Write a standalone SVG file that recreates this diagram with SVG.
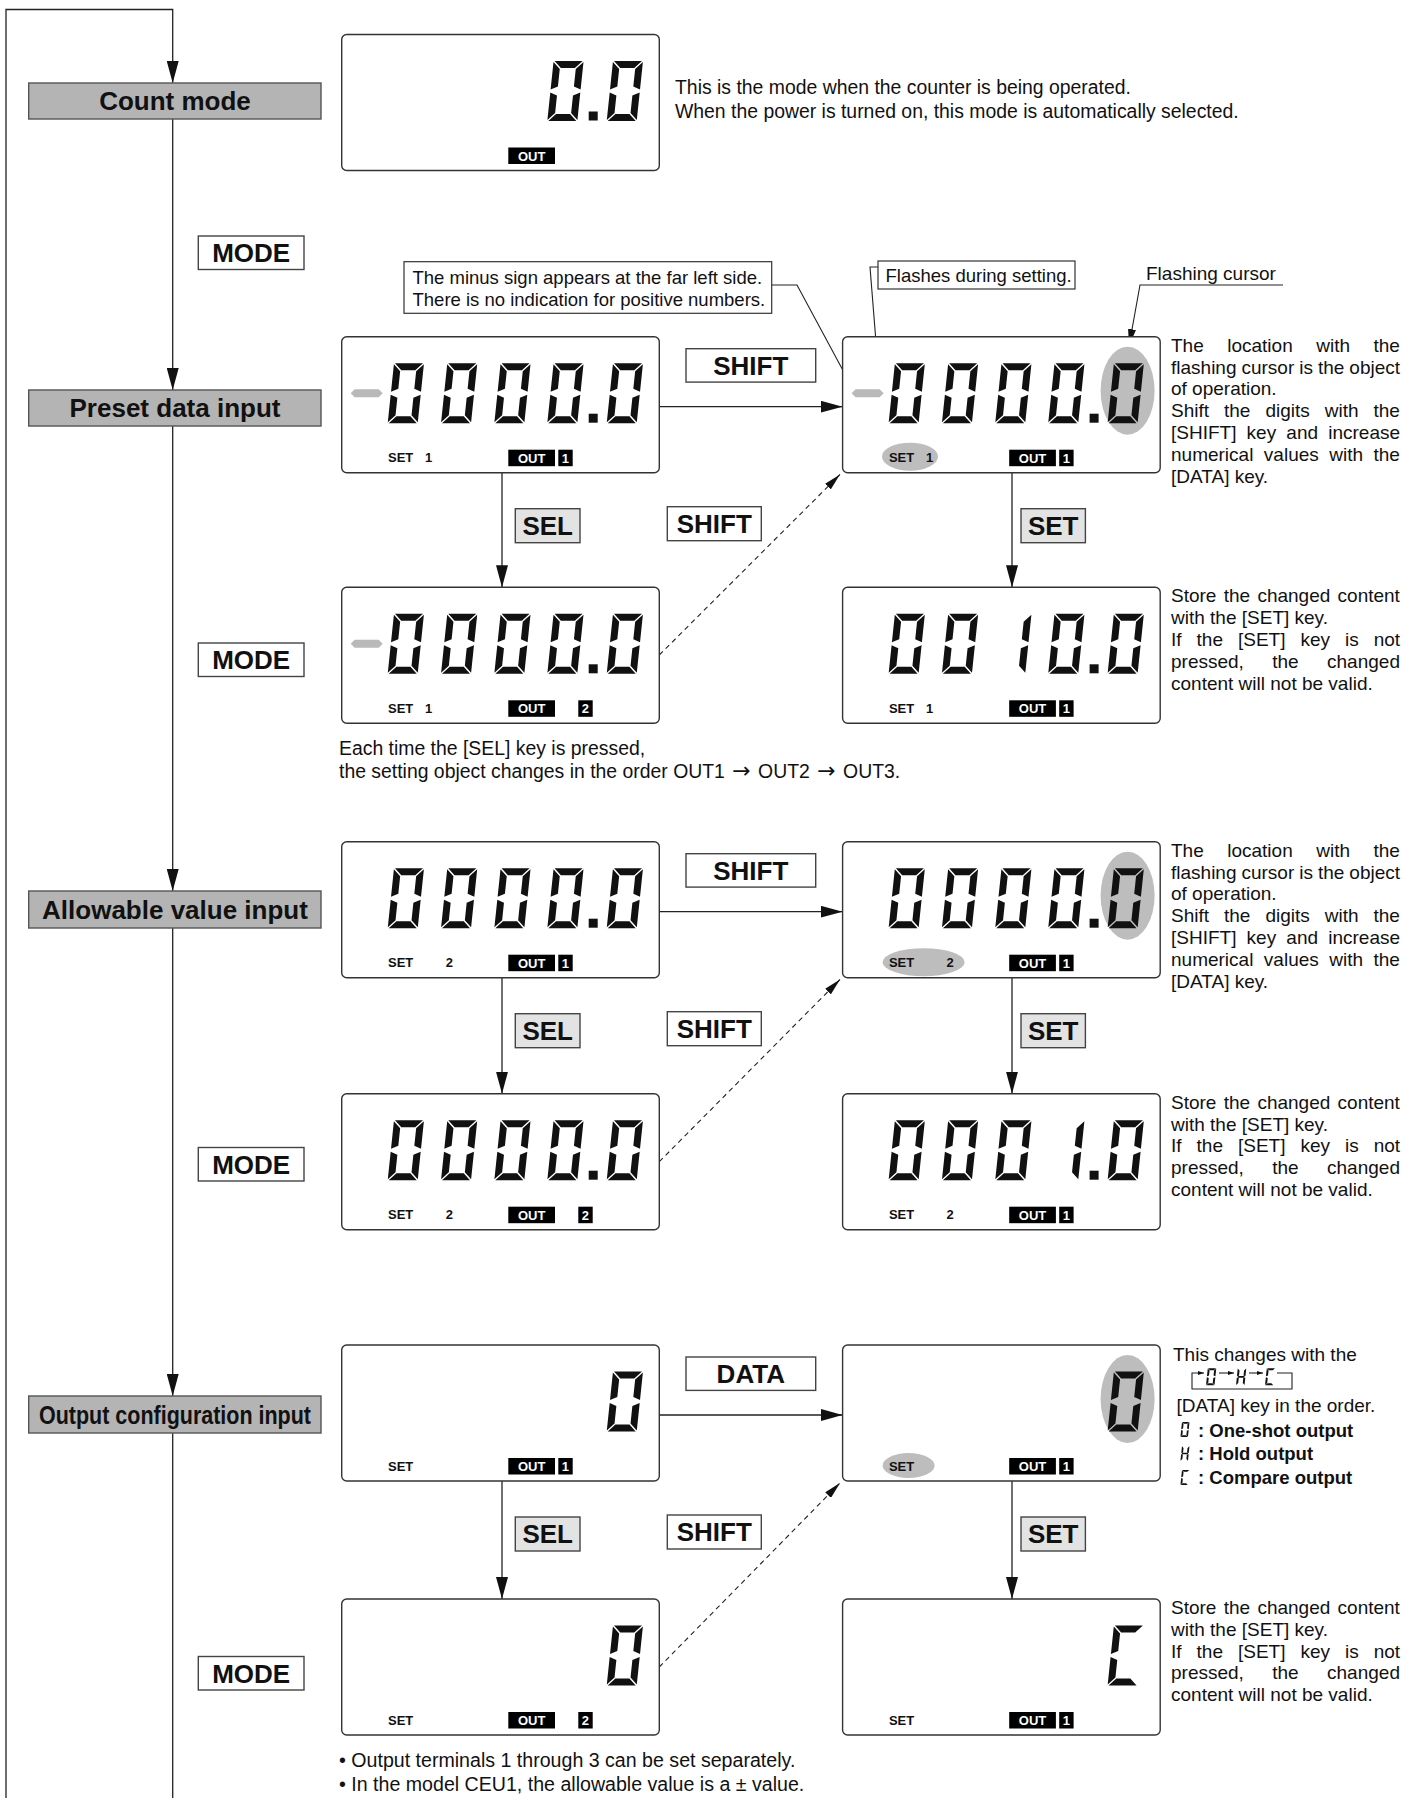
<svg xmlns="http://www.w3.org/2000/svg" width="1417" height="1798" viewBox="0 0 1417 1798">
<style>
.bg{fill:#fff}
.lcd{fill:#fff;stroke:#333;stroke-width:1.4}
.seg{fill:#111}
.minus{fill:#b9b9b9}
.oval{fill:#bdbdbd}
.mode{fill:#b4b4b4;stroke:#555;stroke-width:1.4}
.key{fill:#fff;stroke:#444;stroke-width:1.4}
.keyg{fill:#e3e3e3;stroke:#444;stroke-width:1.4}
.kt{font-family:"Liberation Sans",Arial,sans-serif;font-weight:bold;font-size:26px;text-anchor:middle;fill:#111}
.t{font-family:"Liberation Sans",Arial,sans-serif;font-size:19px;fill:#111}
.tw{font-family:"Liberation Sans",Arial,sans-serif;font-size:19.4px;fill:#111}
.tbul{font-family:"Liberation Sans",Arial,sans-serif;font-size:19.6px;fill:#111}
.arr{font-family:"DejaVu Sans",sans-serif;font-size:22px}
.tc{font-family:"Liberation Sans",Arial,sans-serif;font-size:18.5px;fill:#111}
.tb{font-family:"Liberation Sans",Arial,sans-serif;font-size:18.5px;font-weight:bold;fill:#111}
.lbl{font-family:"Liberation Sans",Arial,sans-serif;font-size:13px;font-weight:bold;fill:#111}
.outt{font-family:"Liberation Sans",Arial,sans-serif;font-size:13px;font-weight:bold;fill:#fff;text-anchor:middle}
.blk{fill:#000}
.ln{fill:none;stroke:#222;stroke-width:1.3}
.thin{fill:none;stroke:#222;stroke-width:1.1}
.dash{stroke-dasharray:5 4}
.cb{fill:#fff;stroke:#333;stroke-width:1.2}
</style>
<defs>
<marker id="ah" viewBox="0 0 22 12" refX="22" refY="6" markerWidth="22" markerHeight="12" markerUnits="userSpaceOnUse" orient="auto"><path d="M0,0L22,6L0,12Z" fill="#111"/></marker>
<marker id="as" viewBox="0 0 17 8" refX="17" refY="4" markerWidth="17" markerHeight="8" markerUnits="userSpaceOnUse" orient="auto"><path d="M0,0L17,4L0,8Z" fill="#111"/></marker>
<marker id="at" viewBox="0 0 6 4" refX="6" refY="2" markerWidth="6" markerHeight="4" markerUnits="userSpaceOnUse" orient="auto"><path d="M0,0L6,2L0,4Z" fill="#111"/></marker>
<path id="d0" class="seg" d="M1,0H29L22,7H8Z M30,1V28.5L23,25.5V8Z M30,31.5V59L23,52V34.5Z M8,53H22L29,60H1Z M0,31.5L7,34.5V52L0,59Z M0,1L7,8V25.5L0,28.5Z"/>
<path id="d1" class="seg" d="M30,1V28.5L23,25.5V8Z M30,31.5V59L23,52V34.5Z"/>
<path id="dH" class="seg" d="M30,1V27.5L23,26V8Z M30,32.5V59L23,52V34Z M0,32.5L7,34V52L0,59Z M0,1L7,8V26L0,27.5Z M1.5,30L5.5,27H24.5L28.5,30L24.5,33H5.5Z"/>
<path id="dC" class="seg" d="M1,0H29L22,7H8Z M8,53H22L29,60H1Z M0,31.5L7,34.5V52L0,59Z M0,1L7,8V25.5L0,28.5Z"/>
<polygon id="mn" class="minus" points="9,56.5 13,52.5 37,52.5 41,56.5 37,60.5 13,60.5"/>
<rect id="frame" class="lcd" width="317.6" height="136" rx="5"/>
<rect id="dp" class="seg" x="247" y="77" width="9" height="9"/>
<g id="out1"><rect class="blk" x="166.6" y="113" width="46.7" height="16.5"/><text class="outt" x="190" y="126">OUT</text><rect class="blk" x="216.6" y="113" width="14.4" height="16.5"/><text class="outt" x="223.8" y="126">1</text></g>
<g id="out2"><rect class="blk" x="166.6" y="113" width="46.7" height="16.5"/><text class="outt" x="190" y="126">OUT</text><rect class="blk" x="236.6" y="113" width="14.4" height="16.5"/><text class="outt" x="243.8" y="126">2</text></g>
</defs>
<rect class="bg" width="1417" height="1798"/>

<g id="connectors">
<path class="ln" d="M6,1798V9.5H172.7V83" marker-end="url(#ah)"/>
<path class="ln" d="M172.7,119V390" marker-end="url(#ah)"/>
<path class="ln" d="M172.7,426V891" marker-end="url(#ah)"/>
<path class="ln" d="M172.7,928V1396" marker-end="url(#ah)"/>
<path class="ln" d="M172.7,1433V1798"/>
<path class="ln" d="M659.3,406.7H842.6" marker-end="url(#ah)"/>
<path class="ln" d="M502,472.7V587.3" marker-end="url(#ah)"/>
<path class="ln" d="M1012,472.7V587.3" marker-end="url(#ah)"/>
<path class="thin dash" d="M659.3,655L840,474.5" marker-end="url(#as)"/>
<path class="ln" d="M659.3,911.7H842.6" marker-end="url(#ah)"/>
<path class="ln" d="M502,977.7V1093.7" marker-end="url(#ah)"/>
<path class="ln" d="M1012,977.7V1093.7" marker-end="url(#ah)"/>
<path class="thin dash" d="M659.3,1161.7L840,979.5" marker-end="url(#as)"/>
<path class="ln" d="M659.3,1415H842.6" marker-end="url(#ah)"/>
<path class="ln" d="M502,1481V1599" marker-end="url(#ah)"/>
<path class="ln" d="M1012,1481V1599" marker-end="url(#ah)"/>
<path class="thin dash" d="M659.3,1667L840,1483" marker-end="url(#as)"/>
<path class="thin" d="M771.7,285H797L853,389" marker-end="url(#as)"/>
<path class="thin" d="M878,267H870L884,442" marker-end="url(#as)"/>
<path class="thin" d="M1283,285H1140L1129,346" marker-end="url(#as)"/>
</g>

<g id="mode-boxes">
<g id="count-mode"><rect class="mode" x="28.7" y="83" width="292.3" height="36"/><text class="kt" x="175" y="110.3">Count mode</text></g>
<g id="preset-mode"><rect class="mode" x="28.7" y="390" width="292.3" height="36"/><text class="kt" x="175" y="417.3">Preset data input</text></g>
<g id="allow-mode"><rect class="mode" x="28.7" y="891" width="292.3" height="37"/><text class="kt" x="175" y="918.8">Allowable value input</text></g>
<g id="output-mode"><rect class="mode" x="28.7" y="1396" width="292.3" height="37"/><text class="kt" x="175" y="1423.8" textLength="272" lengthAdjust="spacingAndGlyphs">Output configuration input</text></g>
</g>

<g id="keys">
<g id="mode1"><rect class="key" x="198.3" y="236" width="105.7" height="33.5"/><text class="kt" x="251.2" y="262">MODE</text></g>
<g id="mode2"><rect class="key" x="198.3" y="643" width="105.7" height="33.5"/><text class="kt" x="251.2" y="669">MODE</text></g>
<g id="mode3"><rect class="key" x="198.3" y="1147.5" width="105.7" height="33.5"/><text class="kt" x="251.2" y="1173.5">MODE</text></g>
<g id="mode4"><rect class="key" x="198.3" y="1656.5" width="105.7" height="33.5"/><text class="kt" x="251.2" y="1682.5">MODE</text></g>

<g id="p-shift"><rect class="key" x="686" y="348.7" width="129.7" height="33.4"/><text class="kt" x="750.8" y="375">SHIFT</text></g>
<g id="p-sel"><rect class="keyg" x="515.3" y="508.7" width="64.7" height="34"/><text class="kt" x="547.7" y="535">SEL</text></g>
<g id="p-shift2"><rect class="key" x="667.3" y="506.7" width="94" height="34"/><text class="kt" x="714.3" y="533">SHIFT</text></g>
<g id="p-set"><rect class="keyg" x="1021" y="508.7" width="64.4" height="34"/><text class="kt" x="1053.2" y="535">SET</text></g>

<g id="a-shift"><rect class="key" x="686" y="853.7" width="129.7" height="33.4"/><text class="kt" x="750.8" y="880">SHIFT</text></g>
<g id="a-sel"><rect class="keyg" x="515.3" y="1013.7" width="64.7" height="34"/><text class="kt" x="547.7" y="1040">SEL</text></g>
<g id="a-shift2"><rect class="key" x="667.3" y="1011.7" width="94" height="34"/><text class="kt" x="714.3" y="1038">SHIFT</text></g>
<g id="a-set"><rect class="keyg" x="1021" y="1013.7" width="64.4" height="34"/><text class="kt" x="1053.2" y="1040">SET</text></g>

<g id="o-data"><rect class="key" x="686" y="1357" width="129.7" height="33.4"/><text class="kt" x="750.8" y="1383.3">DATA</text></g>
<g id="o-sel"><rect class="keyg" x="515.3" y="1517" width="64.7" height="34"/><text class="kt" x="547.7" y="1543.3">SEL</text></g>
<g id="o-shift2"><rect class="key" x="667.3" y="1515" width="94" height="34"/><text class="kt" x="714.3" y="1541.3">SHIFT</text></g>
<g id="o-set"><rect class="keyg" x="1021" y="1517" width="64.4" height="34"/><text class="kt" x="1053.2" y="1543.3">SET</text></g>
</g>

<g id="lcd-count" transform="translate(341.7,34.5)">
<use href="#frame"/>
<use href="#d0" transform="translate(211.9,26.5) skewX(-6)"/><use href="#dp"/><use href="#d0" transform="translate(271.3,26.5) skewX(-6)"/>
<rect class="blk" x="166.6" y="113" width="46.7" height="16.5"/><text class="outt" x="190" y="126">OUT</text>
</g>

<g id="lcd-p1" transform="translate(341.7,336.7)">
<use href="#frame"/><use href="#mn"/>
<use href="#d0" transform="translate(52.3,26.5) skewX(-6)"/><use href="#d0" transform="translate(105.6,26.5) skewX(-6)"/><use href="#d0" transform="translate(158.9,26.5) skewX(-6)"/><use href="#d0" transform="translate(211.9,26.5) skewX(-6)"/><use href="#dp"/><use href="#d0" transform="translate(271.3,26.5) skewX(-6)"/>
<text class="lbl" x="46.3" y="125.5">SET</text><text class="lbl" x="83.3" y="125.5">1</text>
<use href="#out1"/>
</g>
<g id="lcd-p2" transform="translate(842.6,336.7)">
<use href="#frame"/><use href="#mn"/>
<ellipse class="oval" cx="285" cy="54" rx="27" ry="44"/>
<ellipse class="oval" cx="67.4" cy="120" rx="28" ry="14"/>
<use href="#d0" transform="translate(52.3,26.5) skewX(-6)"/><use href="#d0" transform="translate(105.6,26.5) skewX(-6)"/><use href="#d0" transform="translate(158.9,26.5) skewX(-6)"/><use href="#d0" transform="translate(211.9,26.5) skewX(-6)"/><use href="#dp"/><use href="#d0" transform="translate(271.3,26.5) skewX(-6)"/>
<text class="lbl" x="46.3" y="125.5">SET</text><text class="lbl" x="83.3" y="125.5">1</text>
<use href="#out1"/>
</g>
<g id="lcd-p3" transform="translate(341.7,587.3)">
<use href="#frame"/><use href="#mn"/>
<use href="#d0" transform="translate(52.3,26.5) skewX(-6)"/><use href="#d0" transform="translate(105.6,26.5) skewX(-6)"/><use href="#d0" transform="translate(158.9,26.5) skewX(-6)"/><use href="#d0" transform="translate(211.9,26.5) skewX(-6)"/><use href="#dp"/><use href="#d0" transform="translate(271.3,26.5) skewX(-6)"/>
<text class="lbl" x="46.3" y="125.5">SET</text><text class="lbl" x="83.3" y="125.5">1</text>
<use href="#out2"/>
</g>
<g id="lcd-p4" transform="translate(842.6,587.3)">
<use href="#frame"/>
<use href="#d0" transform="translate(52.3,26.5) skewX(-6)"/><use href="#d0" transform="translate(105.6,26.5) skewX(-6)"/><use href="#d1" transform="translate(158.9,26.5) skewX(-6)"/><use href="#d0" transform="translate(211.9,26.5) skewX(-6)"/><use href="#dp"/><use href="#d0" transform="translate(271.3,26.5) skewX(-6)"/>
<text class="lbl" x="46.3" y="125.5">SET</text><text class="lbl" x="83.3" y="125.5">1</text>
<use href="#out1"/>
</g>

<g id="lcd-a1" transform="translate(341.7,841.7)">
<use href="#frame"/>
<use href="#d0" transform="translate(52.3,26.5) skewX(-6)"/><use href="#d0" transform="translate(105.6,26.5) skewX(-6)"/><use href="#d0" transform="translate(158.9,26.5) skewX(-6)"/><use href="#d0" transform="translate(211.9,26.5) skewX(-6)"/><use href="#dp"/><use href="#d0" transform="translate(271.3,26.5) skewX(-6)"/>
<text class="lbl" x="46.3" y="125.5">SET</text><text class="lbl" x="104" y="125.5">2</text>
<use href="#out1"/>
</g>
<g id="lcd-a2" transform="translate(842.6,841.7)">
<use href="#frame"/>
<ellipse class="oval" cx="285" cy="54" rx="27" ry="44"/>
<ellipse class="oval" cx="81" cy="120.5" rx="41" ry="14"/>
<use href="#d0" transform="translate(52.3,26.5) skewX(-6)"/><use href="#d0" transform="translate(105.6,26.5) skewX(-6)"/><use href="#d0" transform="translate(158.9,26.5) skewX(-6)"/><use href="#d0" transform="translate(211.9,26.5) skewX(-6)"/><use href="#dp"/><use href="#d0" transform="translate(271.3,26.5) skewX(-6)"/>
<text class="lbl" x="46.3" y="125.5">SET</text><text class="lbl" x="104" y="125.5">2</text>
<use href="#out1"/>
</g>
<g id="lcd-a3" transform="translate(341.7,1093.7)">
<use href="#frame"/>
<use href="#d0" transform="translate(52.3,26.5) skewX(-6)"/><use href="#d0" transform="translate(105.6,26.5) skewX(-6)"/><use href="#d0" transform="translate(158.9,26.5) skewX(-6)"/><use href="#d0" transform="translate(211.9,26.5) skewX(-6)"/><use href="#dp"/><use href="#d0" transform="translate(271.3,26.5) skewX(-6)"/>
<text class="lbl" x="46.3" y="125.5">SET</text><text class="lbl" x="104" y="125.5">2</text>
<use href="#out2"/>
</g>
<g id="lcd-a4" transform="translate(842.6,1093.7)">
<use href="#frame"/>
<use href="#d0" transform="translate(52.3,26.5) skewX(-6)"/><use href="#d0" transform="translate(105.6,26.5) skewX(-6)"/><use href="#d0" transform="translate(158.9,26.5) skewX(-6)"/><use href="#d1" transform="translate(211.9,26.5) skewX(-6)"/><use href="#dp"/><use href="#d0" transform="translate(271.3,26.5) skewX(-6)"/>
<text class="lbl" x="46.3" y="125.5">SET</text><text class="lbl" x="104" y="125.5">2</text>
<use href="#out1"/>
</g>

<g id="lcd-o1" transform="translate(341.7,1345)">
<use href="#frame"/>
<use href="#d0" transform="translate(271.3,26.5) skewX(-6)"/>
<text class="lbl" x="46.3" y="125.5">SET</text>
<use href="#out1"/>
</g>
<g id="lcd-o2" transform="translate(842.6,1345)">
<use href="#frame"/>
<ellipse class="oval" cx="285" cy="54" rx="27" ry="44"/>
<ellipse class="oval" cx="66" cy="120.5" rx="26" ry="12.5"/>
<use href="#d0" transform="translate(271.3,26.5) skewX(-6)"/>
<text class="lbl" x="46.3" y="125.5">SET</text>
<use href="#out1"/>
</g>
<g id="lcd-o3" transform="translate(341.7,1599)">
<use href="#frame"/>
<use href="#d0" transform="translate(271.3,26.5) skewX(-6)"/>
<text class="lbl" x="46.3" y="125.5">SET</text>
<use href="#out2"/>
</g>
<g id="lcd-o4" transform="translate(842.6,1599)">
<use href="#frame"/>
<use href="#dC" transform="translate(271.3,26.5) skewX(-6)"/>
<text class="lbl" x="46.3" y="125.5">SET</text>
<use href="#out1"/>
</g>

<g id="callouts">
<rect class="cb" x="404" y="261.7" width="367.7" height="51.6"/>
<text class="tc" x="412.5" y="283.5">The minus sign appears at the far left side.</text>
<text class="tc" x="412.5" y="306">There is no indication for positive numbers.</text>
<rect class="cb" x="878" y="261" width="197" height="28"/>
<text class="tc" x="885.5" y="281.5">Flashes during setting.</text>
<text class="t" x="1146" y="279.5">Flashing cursor</text>
</g>

<g id="texts">
<text class="tw" x="675" y="94">This is the mode when the counter is being operated.</text>
<text class="tw" x="675" y="118">When the power is turned on, this mode is automatically selected.</text>

<text class="t" x="1171" y="351.7" word-spacing="18.2">The location with the</text>
<text class="t" x="1171" y="373.5" word-spacing="-0.3">flashing cursor is the object</text>
<text class="t" x="1171" y="395.3">of operation.</text>
<text class="t" x="1171" y="417.1" word-spacing="9.7">Shift the digits with the</text>
<text class="t" x="1171" y="438.9" word-spacing="4.9">[SHIFT] key and increase</text>
<text class="t" x="1171" y="460.7" word-spacing="5.2">numerical values with the</text>
<text class="t" x="1171" y="482.5">[DATA] key.</text>

<text class="t" x="1171" y="602.3" word-spacing="2">Store the changed content</text>
<text class="t" x="1171" y="624.1">with the [SET] key.</text>
<text class="t" x="1171" y="645.9" word-spacing="9.7">If the [SET] key is not</text>
<text class="t" x="1171" y="667.7" word-spacing="23.1">pressed, the changed</text>
<text class="t" x="1171" y="689.5">content will not be valid.</text>

<text class="tw" x="339" y="755">Each time the [SEL] key is pressed,</text>
<text class="tw" x="339" y="778">the setting object changes in the order OUT1 <tspan class="arr" dx="2">→</tspan> <tspan dx="2">OUT2</tspan> <tspan class="arr" dx="2">→</tspan> <tspan dx="2">OUT3.</tspan></text>

<text class="t" x="1171" y="856.7" word-spacing="18.2">The location with the</text>
<text class="t" x="1171" y="878.5" word-spacing="-0.3">flashing cursor is the object</text>
<text class="t" x="1171" y="900.3">of operation.</text>
<text class="t" x="1171" y="922.1" word-spacing="9.7">Shift the digits with the</text>
<text class="t" x="1171" y="943.9" word-spacing="4.9">[SHIFT] key and increase</text>
<text class="t" x="1171" y="965.7" word-spacing="5.2">numerical values with the</text>
<text class="t" x="1171" y="987.5">[DATA] key.</text>

<text class="t" x="1171" y="1108.7" word-spacing="2">Store the changed content</text>
<text class="t" x="1171" y="1130.5">with the [SET] key.</text>
<text class="t" x="1171" y="1152.3" word-spacing="9.7">If the [SET] key is not</text>
<text class="t" x="1171" y="1174.1" word-spacing="23.1">pressed, the changed</text>
<text class="t" x="1171" y="1195.9">content will not be valid.</text>

<text class="t" x="1173" y="1360.5">This changes with the</text>
<text class="t" x="1176.5" y="1411.5">[DATA] key in the order.</text>
<text class="tb" x="1198" y="1436.5">: One-shot output</text>
<text class="tb" x="1198" y="1460">: Hold output</text>
<text class="tb" x="1198" y="1484">: Compare output</text>

<text class="t" x="1171" y="1614" word-spacing="2">Store the changed content</text>
<text class="t" x="1171" y="1635.8">with the [SET] key.</text>
<text class="t" x="1171" y="1657.6" word-spacing="9.7">If the [SET] key is not</text>
<text class="t" x="1171" y="1679.4" word-spacing="23.1">pressed, the changed</text>
<text class="t" x="1171" y="1701.2">content will not be valid.</text>

<text class="tbul" x="339" y="1767">• Output terminals 1 through 3 can be set separately.</text>
<text class="tbul" x="339" y="1791">• In the model CEU1, the allowable value is a ± value.</text>
</g>

<g id="order-icon">
<use href="#d0" transform="translate(1207.8,1368.3) skewX(-6) scale(0.283)"/>
<use href="#dH" transform="translate(1237.8,1368.3) skewX(-6) scale(0.283)"/>
<use href="#dC" transform="translate(1266.8,1368.3) skewX(-6) scale(0.283)"/>
<path class="thin" d="M1277,1373H1292V1389H1192V1373H1204" marker-end="url(#at)"/>
<path class="thin" d="M1219,1373H1234" marker-end="url(#at)"/>
<path class="thin" d="M1249,1373H1263" marker-end="url(#at)"/>
<use href="#d0" transform="translate(1182,1422) skewX(-6) scale(0.25)"/>
<use href="#dH" transform="translate(1182,1446) skewX(-6) scale(0.25)"/>
<use href="#dC" transform="translate(1182,1470) skewX(-6) scale(0.25)"/>
</g>
</svg>
